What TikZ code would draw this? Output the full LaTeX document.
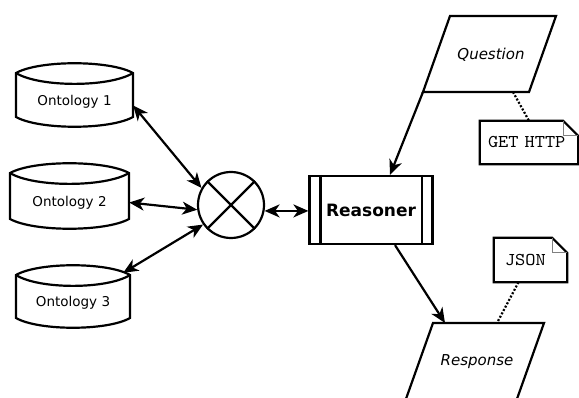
\documentclass[tikz,border=0pt]{standalone}
\usepackage{fontspec}
\setmainfont{DejaVu Sans}
\setmonofont[FakeStretch=1.08]{lmmono10-regular.otf}
\usetikzlibrary{arrows.meta,calc}

% storage drum: name, left, right, top corner y, bottom corner y, label
\newcommand\ontology[6]{%
  \pgfmathsetmacro\ontoW{#3-#2}%
  \pgfmathsetmacro\ontoH{#5-#4-11}%
  \draw[shapeline] (#2,#4)
      .. controls ({#2+0.2*(#3-#2)},{#4-13}) and ({#3-0.2*(#3-#2)},{#4-13}) .. (#3,#4)
      -- (#3,#5)
      .. controls ({#3-0.2*(#3-#2)},{#5+13}) and ({#2+0.2*(#3-#2)},{#5+13}) .. (#2,#5)
      -- cycle;
  \draw[shapeline] (#2,#4)
      .. controls ({#2+0.2*(#3-#2)},{#4+14.5}) and ({#3-0.2*(#3-#2)},{#4+14.5}) .. (#3,#4);
  \node[ontolabel, minimum width=\ontoW pt, minimum height=\ontoH pt]
      (#1) at ({(#2+#3)/2},{(#4+13+#5)/2}) {#6};
}

\begin{document}
\begin{tikzpicture}[x=1pt,y=-1pt,
  shapeline/.style={line width=2.2pt, line join=miter},
  ontolabel/.style={inner sep=0pt, font=\fontsize{13.5}{16}\selectfont},
  dbl/.style={line width=2.2pt, {Stealth[length=15pt,width=13pt,inset=4.5pt]}-{Stealth[length=15pt,width=13pt,inset=4.5pt]}},
  arr/.style={line width=2.2pt, -{Stealth[length=15pt,width=13pt,inset=4.5pt]}},
  dots/.style={line width=2.2pt, dash pattern=on 2pt off 1.8pt},
  notebox/.style={inner ysep=0pt, align=left, font=\ttfamily\fontsize{18}{20}\selectfont},
  iolabel/.style={inner sep=0pt, font=\itshape\fontsize{15}{18}\selectfont}
]
\useasboundingbox[fill=white] (0,0) rectangle (579,398);

% data sources
\ontology{o1}{16}{133}{73}{117}{Ontology 1}
\ontology{o2}{10}{129}{173}{219}{Ontology 2}
\ontology{o3}{16}{130}{275}{318}{Ontology 3}

% merge junction
\node[circle, draw, line width=2.2pt, minimum size=66pt, inner sep=0pt] (mix) at (231,205) {};
\draw[line width=2.2pt] (mix.45) -- (mix.225);
\draw[line width=2.2pt] (mix.135) -- (mix.315);

% reasoner (predefined process)
\node[draw, line width=2.2pt, minimum width=123pt, minimum height=68pt, inner sep=0pt,
      font=\bfseries\fontsize{17}{20}\selectfont] (r) at (371,210) {Reasoner};
\draw[line width=2.2pt] ([xshift=12pt]r.north west) -- ([xshift=12pt]r.south west);
\draw[line width=2.2pt] ([xshift=-12pt]r.north east) -- ([xshift=-12pt]r.south east);

% input parallelogram
\coordinate (q-tl) at (450,16);
\coordinate (q-tr) at (556,16);
\coordinate (q-br) at (529,92);
\coordinate (q-bl) at (423,92);
\coordinate (q-b)  at (513,92);
\draw[shapeline] (q-tl) -- (q-tr) -- (q-br) -- (q-bl) -- cycle;
\node[iolabel] (q) at (491,55) {Question};

% output parallelogram
\coordinate (p-tl) at (433,323);
\coordinate (p-tr) at (544,323);
\coordinate (p-br) at (516.6,400);
\coordinate (p-bl) at (405.6,400);
\coordinate (p-t)  at (445,323);
\coordinate (p-n)  at (497,323);
\draw[shapeline] (p-tl) -- (p-tr) -- (p-br) -- (p-bl) -- cycle;
\node[iolabel] (p) at (477,362) {Response};

% annotations
\node[notebox, inner xsep=8pt, text width=82pt, minimum height=43pt] (get) at (529,142.5) {GET HTTP};
\node[notebox, inner xsep=11pt, text width=51pt, minimum height=44pt] (json) at (530.5,260) {JSON};
\foreach \nt in {get,json}{
  \draw[shapeline] (\nt.south west) -- (\nt.north west) -- ([xshift=-15pt]\nt.north east)
        -- ([yshift=-15pt]\nt.north east) -- (\nt.south east) -- cycle;
  \draw[line width=0.8pt, gray] ([xshift=-15pt]\nt.north east) -- ([xshift=-15pt,yshift=-15pt]\nt.north east)
        -- ([yshift=-15pt]\nt.north east);
}

% connectors
\draw[dbl] ([yshift=-4pt]o1.east) -- (mix.150);
\draw[dbl] (o2.east) -- (mix.188);
\draw[dbl] ([shift={(-7pt,14pt)}]o3.north east) -- (mix.215);
\draw[dbl] (mix.-10) -- (mix.-10 -| r.west);
\draw[arr] (q-bl) -- ([xshift=19pt]r.north);
\draw[arr] ([xshift=24pt]r.south) -- (p-t);
\draw[dots] (q-b) -- (get.north);
\draw[dots] ([xshift=-12pt]json.south) -- (p-n);
\end{tikzpicture}
\end{document}
